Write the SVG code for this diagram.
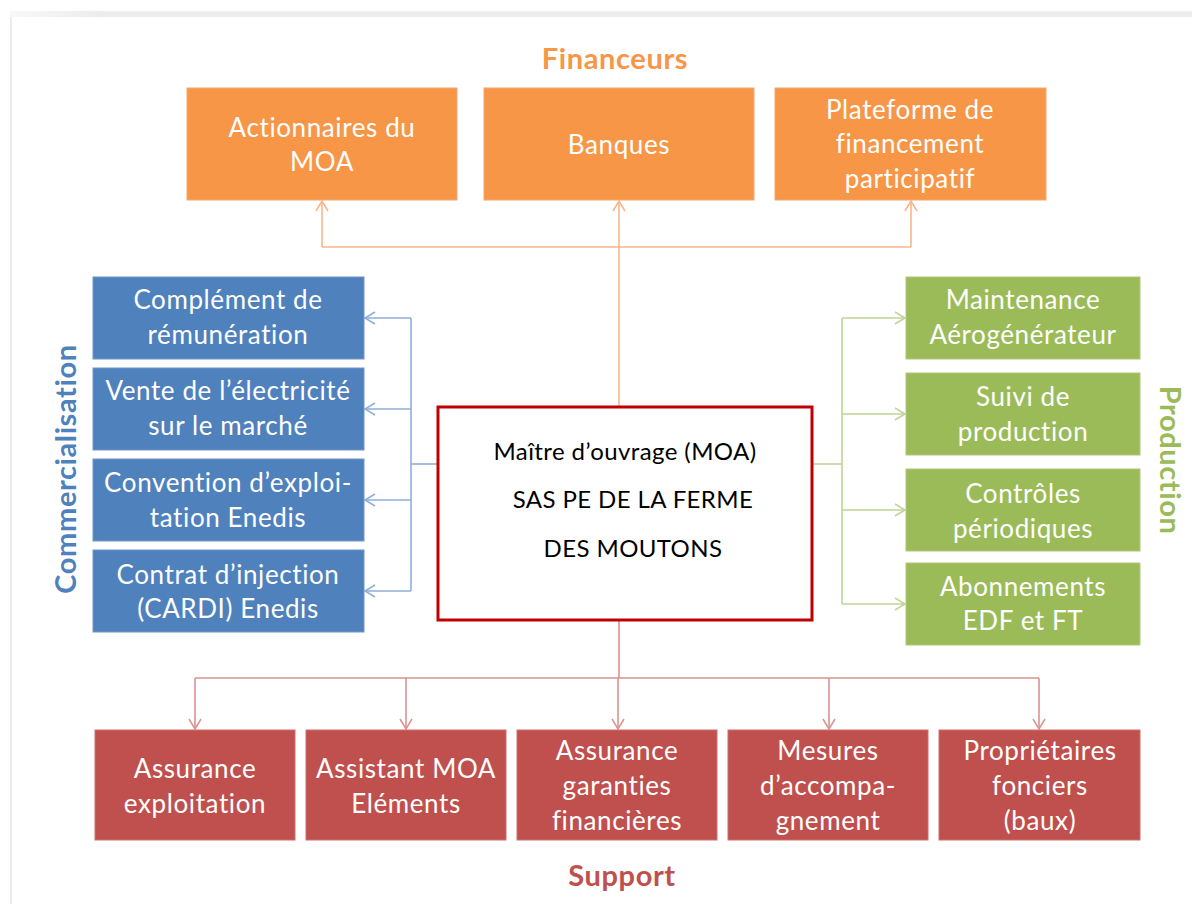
<svg xmlns="http://www.w3.org/2000/svg" width="1192" height="904" viewBox="0 0 1192 904">
<defs>
<linearGradient id="topband" x1="0" y1="0" x2="1" y2="0">
<stop offset="0" stop-color="#f8f8f8"/><stop offset="0.08" stop-color="#ececec"/><stop offset="1" stop-color="#ececec"/>
</linearGradient>
<marker id="aO" markerUnits="userSpaceOnUse" markerWidth="14" markerHeight="14" refX="11" refY="7" orient="auto"><path d="M1,1 L11,7 L1,13" fill="none" stroke="#F9B48A" stroke-width="1.5"/></marker>
<marker id="aB" markerUnits="userSpaceOnUse" markerWidth="14" markerHeight="14" refX="11" refY="7" orient="auto"><path d="M1,1 L11,7 L1,13" fill="none" stroke="#8FAEDA" stroke-width="1.5"/></marker>
<marker id="aG" markerUnits="userSpaceOnUse" markerWidth="14" markerHeight="14" refX="11" refY="7" orient="auto"><path d="M1,1 L11,7 L1,13" fill="none" stroke="#BFD598" stroke-width="1.5"/></marker>
<marker id="aR" markerUnits="userSpaceOnUse" markerWidth="14" markerHeight="14" refX="11" refY="7" orient="auto"><path d="M1,1 L11,7 L1,13" fill="none" stroke="#D99391" stroke-width="1.5"/></marker>
</defs>
<style>
.t{font-family:Lato,"Open Sans",sans-serif;font-size:26px;letter-spacing:0.6px;fill:#fff;text-anchor:middle}
.c{font-family:Lato,"Open Sans",sans-serif;font-size:24px;letter-spacing:0.4px;fill:#000;text-anchor:middle}
.h{font-family:Lato,"Open Sans",sans-serif;font-size:29px;letter-spacing:0.6px;font-weight:bold;text-anchor:middle}
.or{fill:#F79646;stroke:#F4A86E;stroke-width:1}
.bl{fill:#4F81BD;stroke:#6F96C9;stroke-width:1}
.gr{fill:#9BBB59;stroke:#AFC97A;stroke-width:1}
.rd{fill:#C0504D;stroke:#CD706D;stroke-width:1}
.lo{fill:none;stroke:#F9B48A;stroke-width:1.6}
.lb{fill:none;stroke:#8FAEDA;stroke-width:1.6}
.lg{fill:none;stroke:#BFD598;stroke-width:1.6}
.lr{fill:none;stroke:#D99391;stroke-width:1.6}
</style>
<rect x="0" y="0" width="1192" height="904" fill="#fff"/>
<rect x="10" y="11" width="1182" height="6" fill="url(#topband)"/>
<rect x="10" y="17" width="2" height="887" fill="#ededed"/>

<text class="h" x="615" y="69" fill="#F79646">Financeurs</text>
<text class="h" x="622" y="886" fill="#C0504D">Support</text>
<text class="h" transform="translate(76,469) rotate(-90)" fill="#4F81BD">Commercialisation</text>
<text class="h" transform="translate(1160,460) rotate(90)" fill="#9BBB59">Production</text>

<g id="connectors">
<path class="lo" d="M619,406 V247"/>
<path class="lo" d="M322,247 H911"/>
<path class="lo" d="M322,247 V201" marker-end="url(#aO)"/>
<path class="lo" d="M619,247 V201" marker-end="url(#aO)"/>
<path class="lo" d="M911,247 V201" marker-end="url(#aO)"/>
<path class="lb" d="M437,464 H411"/>
<path class="lb" d="M411,318 V591"/>
<path class="lb" d="M411,318 H365" marker-end="url(#aB)"/>
<path class="lb" d="M411,409 H365" marker-end="url(#aB)"/>
<path class="lb" d="M411,500 H365" marker-end="url(#aB)"/>
<path class="lb" d="M411,591 H365" marker-end="url(#aB)"/>
<path class="lg" d="M813,464 H842"/>
<path class="lg" d="M842,318 V604"/>
<path class="lg" d="M842,318 H905" marker-end="url(#aG)"/>
<path class="lg" d="M842,414 H905" marker-end="url(#aG)"/>
<path class="lg" d="M842,510 H905" marker-end="url(#aG)"/>
<path class="lg" d="M842,604 H905" marker-end="url(#aG)"/>
<path class="lr" d="M619,621 V678"/>
<path class="lr" d="M195,678 H1039"/>
<path class="lr" d="M195,678 V729" marker-end="url(#aR)"/>
<path class="lr" d="M406,678 V729" marker-end="url(#aR)"/>
<path class="lr" d="M618,678 V729" marker-end="url(#aR)"/>
<path class="lr" d="M829,678 V729" marker-end="url(#aR)"/>
<path class="lr" d="M1039,678 V729" marker-end="url(#aR)"/>
</g>

<g id="moa">
<rect x="438" y="407" width="374" height="213" fill="#fff" stroke="#C00000" stroke-width="3"/>
<text class="c" x="625" y="460">Maître d’ouvrage (MOA)</text>
<text class="c" x="633" y="508">SAS PE DE LA FERME</text>
<text class="c" x="633" y="557">DES MOUTONS</text>
</g>

<g id="f1"><rect class="or" x="187" y="88" width="270" height="112"/><text class="t" x="322" y="137">Actionnaires du</text><text class="t" x="322" y="171">MOA</text></g>
<g id="f2"><rect class="or" x="484" y="88" width="270" height="112"/><text class="t" x="619" y="154">Banques</text></g>
<g id="f3"><rect class="or" x="775" y="88" width="271" height="112"/><text class="t" x="910" y="119">Plateforme de</text><text class="t" x="910" y="153">financement</text><text class="t" x="910" y="188">participatif</text></g>

<g id="c1"><rect class="bl" x="93" y="277" width="271" height="82"/><text class="t" x="228" y="309">Complément de</text><text class="t" x="228" y="344">rémunération</text></g>
<g id="c2"><rect class="bl" x="93" y="368" width="271" height="82"/><text class="t" x="228" y="400">Vente de l’électricité</text><text class="t" x="228" y="435">sur le marché</text></g>
<g id="c3"><rect class="bl" x="93" y="459" width="271" height="82"/><text class="t" x="228" y="492">Convention d’exploi-</text><text class="t" x="228" y="527">tation Enedis</text></g>
<g id="c4"><rect class="bl" x="93" y="550" width="271" height="82"/><text class="t" x="228" y="584">Contrat d’injection</text><text class="t" x="228" y="618">(CARDI) Enedis</text></g>

<g id="p1"><rect class="gr" x="906" y="277" width="234" height="82"/><text class="t" x="1023" y="309">Maintenance</text><text class="t" x="1023" y="344">Aérogénérateur</text></g>
<g id="p2"><rect class="gr" x="906" y="373" width="234" height="82"/><text class="t" x="1023" y="406">Suivi de</text><text class="t" x="1023" y="441">production</text></g>
<g id="p3"><rect class="gr" x="906" y="469" width="234" height="82"/><text class="t" x="1023" y="503">Contrôles</text><text class="t" x="1023" y="538">périodiques</text></g>
<g id="p4"><rect class="gr" x="906" y="563" width="234" height="82"/><text class="t" x="1023" y="596">Abonnements</text><text class="t" x="1023" y="630">EDF et FT</text></g>

<g id="s1"><rect class="rd" x="95" y="730" width="200" height="110"/><text class="t" x="195" y="778">Assurance</text><text class="t" x="195" y="813">exploitation</text></g>
<g id="s2"><rect class="rd" x="306" y="730" width="200" height="110"/><text class="t" x="406" y="778">Assistant MOA</text><text class="t" x="406" y="813">Eléments</text></g>
<g id="s3"><rect class="rd" x="517" y="730" width="200" height="110"/><text class="t" x="617" y="760">Assurance</text><text class="t" x="617" y="795">garanties</text><text class="t" x="617" y="830">financières</text></g>
<g id="s4"><rect class="rd" x="728" y="730" width="200" height="110"/><text class="t" x="828" y="760">Mesures</text><text class="t" x="828" y="795">d’accompa-</text><text class="t" x="828" y="830">gnement</text></g>
<g id="s5"><rect class="rd" x="939" y="730" width="201" height="110"/><text class="t" x="1040" y="760">Propriétaires</text><text class="t" x="1040" y="795">fonciers</text><text class="t" x="1040" y="830">(baux)</text></g>
</svg>
